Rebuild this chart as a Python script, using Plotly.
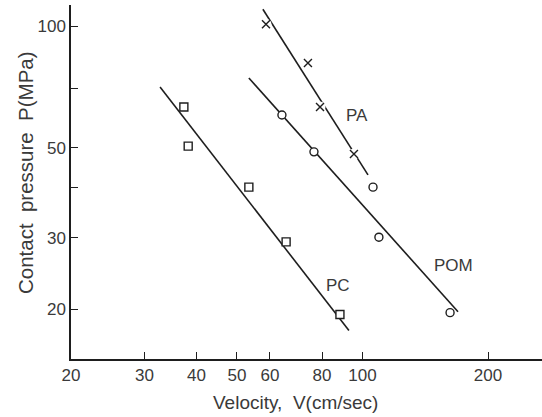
import plotly.graph_objects as go
import math

# ---- data ----
pc_v = [37.3, 38.2, 53.4, 65.6, 88.3]
pc_p = [63.1, 50.5, 40.0, 29.3, 19.4]
pom_v = [64.1, 76.5, 106.0, 109.5, 162.2]
pom_p = [60.3, 48.9, 40.0, 30.1, 19.6]
pa_v = [58.7, 74.0, 79.1, 95.4]
pa_p = [101.0, 81.0, 63.1, 48.3]

# fitted lines (end points)
pc_line_v = [32.7, 92.8]
pc_line_p = [70.7, 17.7]
pom_line_v = [53.4, 169.5]
pom_line_p = [74.4, 19.7]
pa_line_v = [57.7, 103.1]
pa_line_p = [110.0, 42.9]

x_ticks = [20, 30, 40, 50, 60, 80, 100, 200]
y_ticks = [20, 30, 40, 50, 70, 100]
y_ticktext = ["20", "30", "", "50", "", "100"]

labels = [("PA", 97, 60), ("POM", 165, 25.6), ("PC", 87.4, 22.9)]

LINE = "#1e1e1e"
TEXT = "#3a3a3a"
FONT = "Liberation Sans, Arial, sans-serif"

fig = go.Figure()
for xs, ys in [(pc_line_v, pc_line_p), (pom_line_v, pom_line_p), (pa_line_v, pa_line_p)]:
    fig.add_trace(go.Scatter(x=xs, y=ys, mode="lines",
                             line=dict(color=LINE, width=1.6), hoverinfo="skip"))

# white halo behind crosses (gaps in the PA line)
fig.add_trace(go.Scatter(x=pa_v, y=pa_p, mode="markers",
                         marker=dict(symbol="circle", size=11, color="white",
                                     line=dict(width=0))))
fig.add_trace(go.Scatter(x=pa_v, y=pa_p, mode="markers",
                         marker=dict(symbol="x-thin", size=8, color=LINE,
                                     line=dict(color=LINE, width=1.4))))
fig.add_trace(go.Scatter(x=pom_v, y=pom_p, mode="markers",
                         marker=dict(symbol="circle", size=8, color="white",
                                     line=dict(color=LINE, width=1.4))))
fig.add_trace(go.Scatter(x=pc_v, y=pc_p, mode="markers",
                         marker=dict(symbol="square", size=8, color="white",
                                     line=dict(color=LINE, width=1.4))))

for txt, xv, yv in labels:
    fig.add_annotation(x=math.log10(xv), y=math.log10(yv), xref="x", yref="y",
                       text=txt, showarrow=False,
                       font=dict(family=FONT, size=17, color=TEXT))

fig.add_annotation(x=0.4756, y=-0.1215, xref="paper", yref="paper",
                   text="Velocity,\u00a0 V(cm/sec)", showarrow=False,
                   xanchor="center", yanchor="middle",
                   font=dict(family=FONT, size=19, color=TEXT))
fig.add_annotation(x=-0.0977, y=0.528, xref="paper", yref="paper",
                   text="Contact\u00a0 pressure\u00a0 P(MPa)", showarrow=False,
                   textangle=-90, xanchor="center", yanchor="middle",
                   font=dict(family=FONT, size=20.5, color=TEXT))

fig.update_layout(
    width=542, height=417,
    margin=dict(l=71, r=0, t=5, b=58),
    paper_bgcolor="white", plot_bgcolor="white",
    showlegend=False,
    font=dict(family=FONT, size=17, color=TEXT),
    xaxis=dict(type="log", range=[math.log10(20), math.log10(20) + 471 / 417],
               tickvals=x_ticks, ticktext=[str(v) for v in x_ticks],
               ticks="inside", ticklen=7, tickwidth=1.4, tickcolor=LINE,
               showline=True, linecolor=LINE, linewidth=1.5,
               showgrid=False, zeroline=False,
               tickfont=dict(family=FONT, size=17, color=TEXT)),
    yaxis=dict(type="log", range=[2 - 333 / 405, 2 + 21 / 405],
               tickvals=y_ticks, ticktext=y_ticktext,
               ticks="inside", ticklen=7, tickwidth=1.4, tickcolor=LINE,
               showline=True, linecolor=LINE, linewidth=1.5,
               showgrid=False, zeroline=False,
               tickfont=dict(family=FONT, size=17, color=TEXT)),
)

fig.write_html("out.html")
